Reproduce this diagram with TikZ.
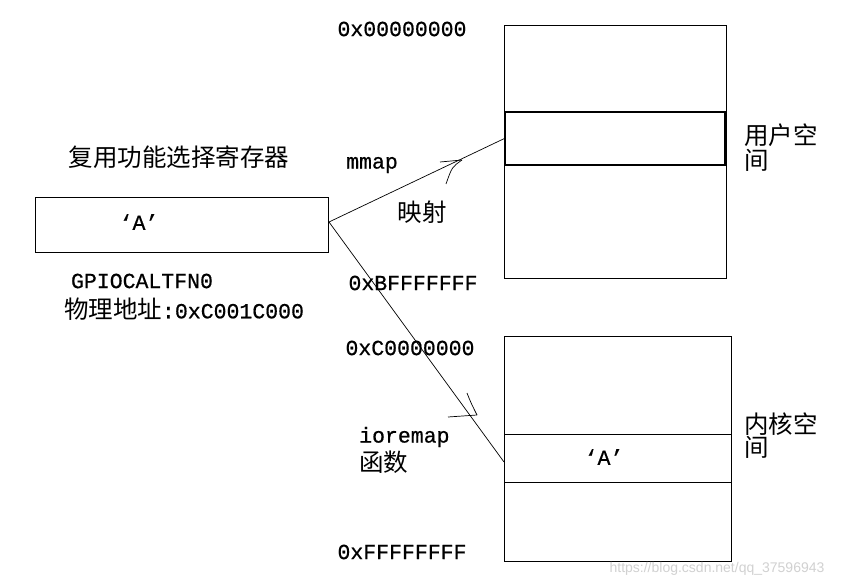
\documentclass[tikz,border=0pt]{standalone}
\usepackage{fontspec}
\setmainfont[FakeBold=0.6]{Liberation Mono}
\newfontfamily\cjk{Noto Sans CJK SC}
\newfontfamily\wmfont{Liberation Sans}
\newcommand{\qA}{‘A’}
\begin{document}
\begin{tikzpicture}[x=1pt,y=-1pt,
  box/.style={draw, line width=1pt, minimum width=#1, inner sep=0pt},
  lbl/.style={inner sep=0pt, font=\fontsize{21.5}{24}\selectfont},
  cjklbl/.style={inner sep=0pt, font=\fontsize{24.5}{28}\selectfont\cjk},
  conn/.style={line width=0.7pt},
  tick/.style={line width=0.7pt}]
\path[use as bounding box, fill=white] (0,0) rectangle (848,588);

% left register box
\node[box=293pt, minimum height=54pt] (reg) at (181.5,225) {};
\node[lbl] (regA) at (139,222) {\qA};
\node[cjklbl] (title) at (179,157) {复用功能选择寄存器};
\node[lbl] (gpio) at (142,281) {GPIOCALTFN0};
\node[lbl] (phys) at (184,309) {{\fontsize{24.5}{28}\selectfont\cjk 物理地址}:0xC001C000};

% user space
\node[box=222pt, minimum height=252pt] (ubox) at (615,152) {};
\node[box=220pt, minimum height=53pt, line width=1.2pt] (uband) at (615,138.5) {};
\node[cjklbl, anchor=west] (ulab1) at (744,135) {用户空};
\node[cjklbl, anchor=west] (ulab2) at (744,160) {间};

% kernel space
\node[box=227pt, minimum height=225pt] (kbox) at (617.5,448.5) {};
\node[box=227pt, minimum height=48pt] (kband) at (617.5,458) {};
\node[lbl] (kA) at (604,457) {\qA};
\node[cjklbl, anchor=west] (klab1) at (744,424) {内核空};
\node[cjklbl, anchor=west] (klab2) at (744,447) {间};

% address labels
\node[lbl] (a0) at (402,29) {0x00000000};
\node[lbl] (aB) at (413,283) {0xBFFFFFFF};
\node[lbl] (aC) at (410,348) {0xC0000000};
\node[lbl] (aF) at (402,552) {0xFFFFFFFF};

% mapping labels
\node[lbl] (mmap) at (372,165) {mmap};
\node[cjklbl] (ys) at (422,212) {映射};
\node[lbl, anchor=west] (iorm) at (359,437) {ioremap};
\node[cjklbl, anchor=west] (hs) at (359,462) {函数};

% connectors
\coordinate (src) at (329,222);
\coordinate (kdst) at (504,462);
\draw[conn] (src) -- (uband.west);
\draw[conn] (src) -- (kdst);

% hand-drawn arrow marks
\draw[tick] (440,162) -- (462,160);
\draw[tick] (462,160) .. controls (452,167) .. (446,184);
\draw[tick] (448,417) -- (477,415);
\draw[tick] (467,393) .. controls (471,403) .. (477,415);

% watermark
\node[inner sep=0pt, text=black!18, font=\fontsize{14}{16}\selectfont\wmfont] (wm) at (717,569) {https://blog.csdn.net/qq\_37596943};
\end{tikzpicture}
\end{document}
